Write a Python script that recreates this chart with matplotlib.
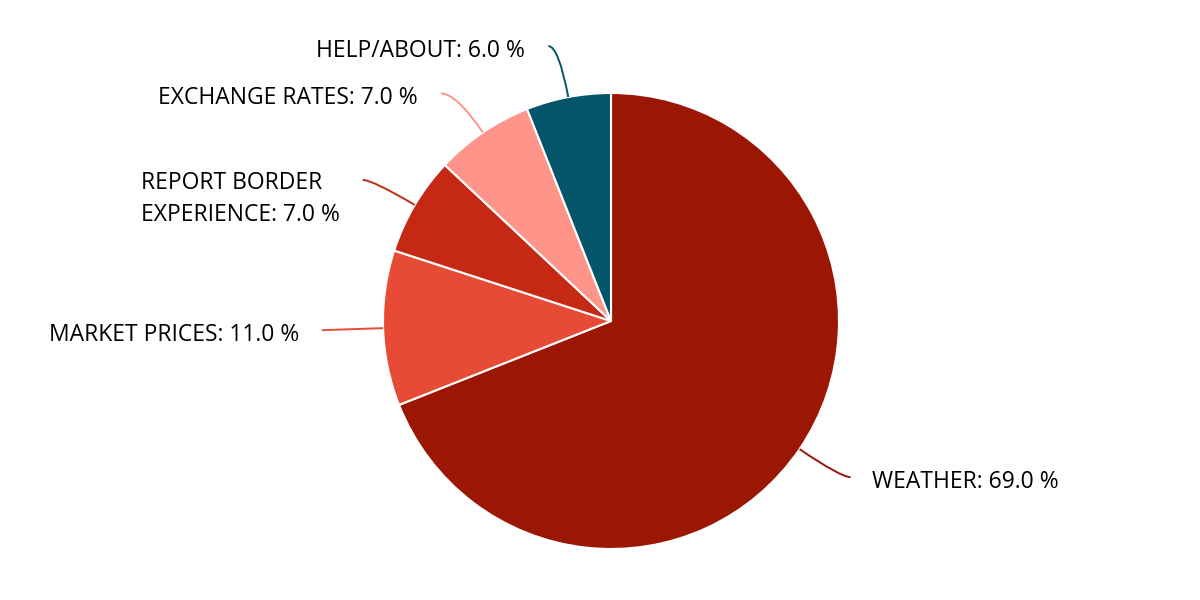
import numpy as np
import matplotlib.pyplot as plt
from matplotlib.path import Path
from matplotlib.patches import PathPatch

# data
categories = ['WEATHER', 'MARKET PRICES', 'REPORT BORDER\nEXPERIENCE', 'EXCHANGE RATES', 'HELP/ABOUT']
shares = [69.0, 11.0, 7.0, 7.0, 6.0]
colours = ['#9c1604', '#e84b35', '#c52913', '#ff958a', '#03566a']

W, H = 1200, 600
R = 228
cx, cy = 611, H - 321

fig = plt.figure(figsize=(12, 6), dpi=100)
ax = fig.add_axes([0, 0, 1, 1])

wedges, _ = ax.pie(shares, colors=colours, startangle=90, counterclock=False,
                   center=(cx, cy), radius=R,
                   wedgeprops=dict(edgecolor='white', linewidth=1.5))
# pie resets the limits, so set them afterwards
ax.set_xlim(0, W)
ax.set_ylim(0, H)
ax.set_aspect('equal')
ax.axis('off')

# leader line end offsets (dx, dy) in pixels, y up
ends = [(51, -28), (-61, -2), (-52, 25), (-42, 39), (-20, 51)]

for w, lab, val, col, (dx, dy) in zip(wedges, categories, shares, colours, ends):
    ang = np.deg2rad((w.theta1 + w.theta2) / 2)
    u = np.array([np.cos(ang), np.sin(ang)])
    p0 = np.array([cx, cy]) + u * R
    p2 = p0 + np.array([dx, dy])
    if abs(u[1]) > 0.3:
        s = dy / u[1]
    else:
        s = np.hypot(dx, dy) / 2
    p1 = p0 + u * s
    path = Path([p0, p1, p2], [Path.MOVETO, Path.CURVE3, Path.CURVE3])
    ax.add_patch(PathPatch(path, fill=False, edgecolor=col, linewidth=1.4))

    txt = f'{lab}: {val:.1f} %'
    nlines = txt.count('\n') + 1
    ty = p2[1] - 5 - (nlines - 1) * 14
    if dx > 0:
        ax.text(p2[0] + 21, ty, txt, ha='left', va='center', fontsize=16.5,
                family='Open Sans', color='#000000')
    else:
        ax.text(p2[0] - 23, ty, txt, ha='right', va='center', fontsize=16.5,
                family='Open Sans', color='#000000', multialignment='left',
                linespacing=1.4)

fig.savefig('out.png', dpi=100)
